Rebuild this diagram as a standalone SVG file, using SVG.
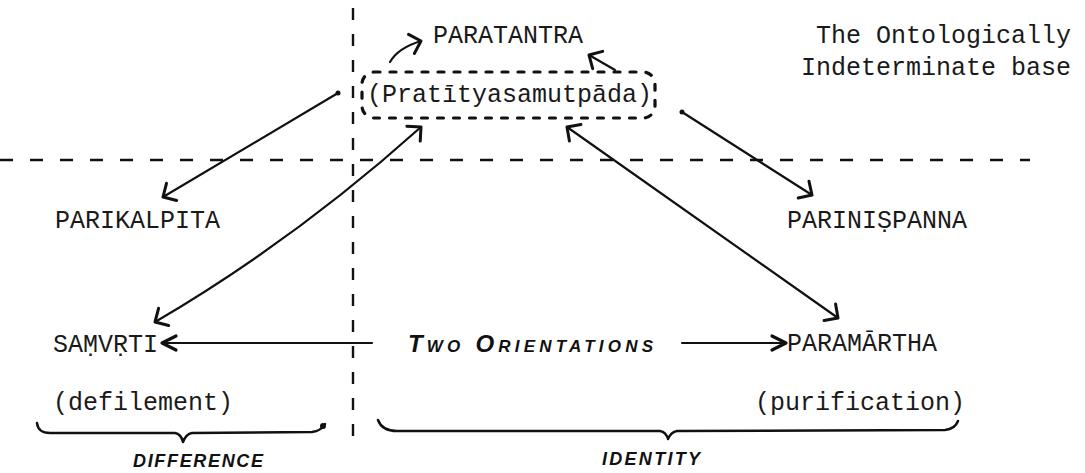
<svg xmlns="http://www.w3.org/2000/svg" width="1085" height="473" viewBox="0 0 1085 473">
  <style>
    .tw { font-family: "Liberation Mono", "DejaVu Sans Mono", monospace; font-size: 25px; fill: #1a1a1a; }
    .hand { font-family: "Liberation Sans", "DejaVu Sans", sans-serif; font-style: italic; font-weight: bold; fill: #111; }
    .div { fill: none; stroke: #111; stroke-width: 2.4; }
    .conn { fill: none; stroke: #111; stroke-width: 2.2; stroke-linecap: round; }
    .brace { fill: none; stroke: #111; stroke-width: 2.5; stroke-linecap: round; stroke-linejoin: round; }
  </style>
  <defs>
    <marker id="chevW" viewBox="0 0 20 20" refX="18" refY="10" markerUnits="userSpaceOnUse" markerWidth="20" markerHeight="20" orient="auto-start-reverse" overflow="visible">
      <path d="M8,0 L18,10 L8,20" fill="none" stroke="#111" stroke-width="3" stroke-linecap="round" stroke-linejoin="round"/>
    </marker>
    <marker id="chevN" viewBox="0 0 20 20" refX="18" refY="10" markerUnits="userSpaceOnUse" markerWidth="20" markerHeight="20" orient="auto-start-reverse" overflow="visible">
      <path d="M4,3 L18,10 L4,17" fill="none" stroke="#111" stroke-width="3.2" stroke-linecap="round" stroke-linejoin="round"/>
    </marker>
  </defs>
  <rect width="1085" height="473" fill="#fff"/>

  <g id="dividers">
    <path class="div" d="M0,160 H1030" stroke-dasharray="13 17"/>
    <path class="div" d="M353,8 V445" stroke-width="2" stroke-dasharray="12 14"/>
  </g>

  <g id="connectors">
    <path class="conn" d="M372,343 H162" marker-end="url(#chevN)"/>
    <path class="conn" d="M682,343 H786" marker-end="url(#chevN)"/>
    <path class="conn" d="M338,93 L163,197" marker-end="url(#chevW)"/>
    <circle cx="338" cy="93" r="2.5" fill="#111"/>
    <path class="conn" d="M682,112 L812,195" marker-end="url(#chevW)"/>
    <circle cx="682" cy="112" r="2.5" fill="#111"/>
    <path class="conn" d="M155,322 Q295,240 421,127" marker-start="url(#chevW)" marker-end="url(#chevW)"/>
    <path class="conn" d="M567,127 L838,318" marker-start="url(#chevW)" marker-end="url(#chevW)"/>
    <path class="conn" d="M390,62 Q398,48 421,41" marker-end="url(#chevW)"/>
    <path class="conn" d="M615,70 L589,55" marker-end="url(#chevW)"/>
  </g>

  <g id="paratantra">
    <text class="tw" x="433" y="43">PARATANTRA</text>
  </g>

  <g id="pratityasamutpada">
    <rect x="362" y="72" width="293" height="46" rx="12" fill="none" stroke="#111" stroke-width="3.2" stroke-dasharray="6 10" stroke-linecap="round"/>
    <text class="tw" x="367" y="102">(Pratītyasamutpāda)</text>
  </g>

  <g id="ontological-base">
    <text class="tw" x="1071" y="43" text-anchor="end">The Ontologically</text>
    <text class="tw" x="1071" y="75" text-anchor="end">Indeterminate base</text>
  </g>

  <g id="parikalpita">
    <text class="tw" x="55" y="228">PARIKALPITA</text>
  </g>

  <g id="parinispanna">
    <text class="tw" x="787" y="228">PARINIṢPANNA</text>
  </g>

  <g id="samvrti">
    <text class="tw" x="53" y="352">SAṂVṚTI</text>
  </g>

  <g id="paramartha">
    <text class="tw" x="787" y="351">PARAMĀRTHA</text>
  </g>

  <g id="two-orientations">
    <text class="hand" x="408" y="352" font-size="24" style="font-variant: small-caps" textLength="245" lengthAdjust="spacing">Two Orientations</text>
  </g>

  <g id="defilement">
    <text class="tw" x="53" y="410">(defilement)</text>
  </g>

  <g id="purification">
    <text class="tw" x="755" y="410">(purification)</text>
  </g>

  <g id="difference">
    <path class="brace" d="M37,423 Q38,433 50,433 L175,433 Q181,434 183,442 Q186,434 192,433 L312,432 Q321,431 325,424"/>
    <circle cx="323" cy="426" r="3" fill="#111"/>
    <text class="hand" x="133" y="467" font-size="18" textLength="130" lengthAdjust="spacing">DIFFERENCE</text>
  </g>

  <g id="identity">
    <path class="brace" d="M378,420 Q382,431 397,431 L660,431 Q666,432 668,439 Q671,432 677,431 L945,430 Q955,429 958,421"/>
    <text class="hand" x="602" y="465" font-size="18" textLength="98" lengthAdjust="spacing">IDENTITY</text>
  </g>
</svg>
